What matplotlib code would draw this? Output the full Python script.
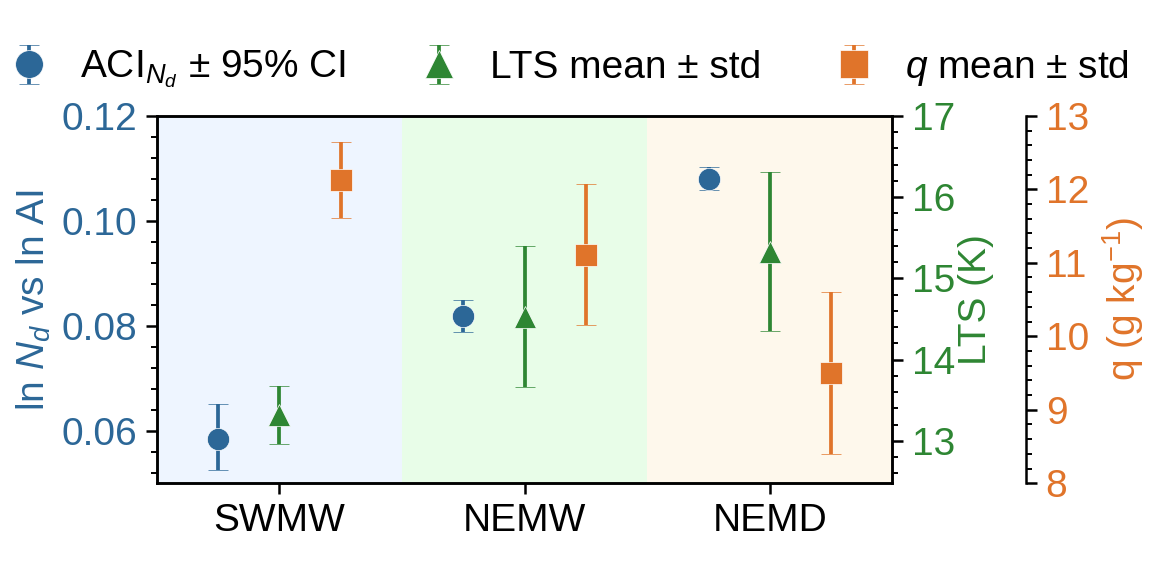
import matplotlib
matplotlib.use("Agg")
import matplotlib.pyplot as plt
from matplotlib.ticker import MultipleLocator, FormatStrFormatter
import numpy as np

plt.rcParams["font.family"] = ["Liberation Sans", "DejaVu Sans"]
plt.rcParams["mathtext.fontset"] = "custom"
plt.rcParams["mathtext.rm"] = "Liberation Sans"
plt.rcParams["mathtext.it"] = "Liberation Sans:italic"

regions = ["SWMW", "NEMW", "NEMD"]
region_bg = ["#EEF5FF", "#E8FDE8", "#FEF8EC"]

# ACI with 95% CI bounds
aci = [0.0585, 0.0818, 0.1080]
aci_lo = [0.0526, 0.0789, 0.1059]
aci_hi = [0.0650, 0.0850, 0.1103]

# LTS mean and std (K)
lts = [13.32, 14.53, 15.33]
lts_std = [0.36, 0.87, 0.98]

# q mean and std (g/kg)
q = [12.13, 11.11, 9.50]
q_std = [0.52, 0.96, 1.10]

c_aci = "#2C6797"
c_lts = "#2E8633"
c_q = "#E0742A"

fig = plt.figure(figsize=(11.53, 5.85), dpi=100)
ax = fig.add_axes([0.136, 0.174, 0.638, 0.628])
ax2 = ax.twinx()
ax3 = ax.twinx()
ax3.spines["right"].set_position(("axes", 1.182))
for s in ["top", "bottom", "left"]:
    ax3.spines[s].set_visible(False)

x = np.arange(len(regions))
for i, c in enumerate(region_bg):
    ax.axvspan(i - 0.5, i + 0.5, color=c, lw=0, zorder=0)

ekw = dict(capsize=7.5, elinewidth=2.7, capthick=2.7, markersize=16,
           markeredgecolor="white", markeredgewidth=0.5, ls="none")
yerr_aci = [np.array(aci) - np.array(aci_lo), np.array(aci_hi) - np.array(aci)]
h1 = ax.errorbar(x - 0.25, aci, yerr=yerr_aci, fmt="o", color=c_aci, **ekw)
h2 = ax2.errorbar(x, lts, yerr=lts_std, fmt="^", color=c_lts, **ekw)
h3 = ax3.errorbar(x + 0.25, q, yerr=q_std, fmt="s", color=c_q, **ekw)

ax.set_xlim(-0.5, 2.5)
ax.set_ylim(0.05, 0.12)
ax2.set_ylim(12.48, 17)
ax3.set_ylim(8, 13)

ax.set_xticks(x)
ax.set_xticklabels(regions)
ax.yaxis.set_major_locator(MultipleLocator(0.02))
ax.yaxis.set_minor_locator(MultipleLocator(0.004))
ax.yaxis.set_major_formatter(FormatStrFormatter("%.2f"))
ax2.yaxis.set_major_locator(MultipleLocator(1))
ax2.yaxis.set_minor_locator(MultipleLocator(0.2))
ax3.yaxis.set_major_locator(MultipleLocator(1))
ax3.yaxis.set_minor_locator(MultipleLocator(0.2))

fs = 28
for a in [ax, ax2, ax3]:
    for s in a.spines.values():
        s.set_linewidth(1.8)
    a.tick_params(which="major", length=8, width=1.8, labelsize=fs, pad=6)
    a.tick_params(which="minor", length=4.5, width=1.4)

ax.tick_params(axis="y", colors="black", labelcolor=c_aci)
ax2.tick_params(axis="y", which="both", colors="black", labelcolor=c_lts)
ax3.tick_params(axis="y", which="both", colors="black", labelcolor=c_q)

ax.set_ylabel(r"ln $N_d$ vs ln AI", color=c_aci, fontsize=fs, labelpad=6)
ax2.set_ylabel("LTS (K)", color=c_lts, fontsize=fs, labelpad=2)
ax3.set_ylabel(r"q (g kg$^{-1}$)", color=c_q, fontsize=fs, labelpad=8)

fig.legend([h1, h2, h3],
           [r"ACI$_{N_d}$ ± 95% CI", "LTS mean ± std", r"$q$ mean ± std"],
           loc="center", bbox_to_anchor=(0.492, 0.882), ncol=3,
           frameon=False, fontsize=fs, handletextpad=0.7, columnspacing=1.8,
           handlelength=1.2, markerscale=1.25)

fig.savefig("out.png", dpi=100)
